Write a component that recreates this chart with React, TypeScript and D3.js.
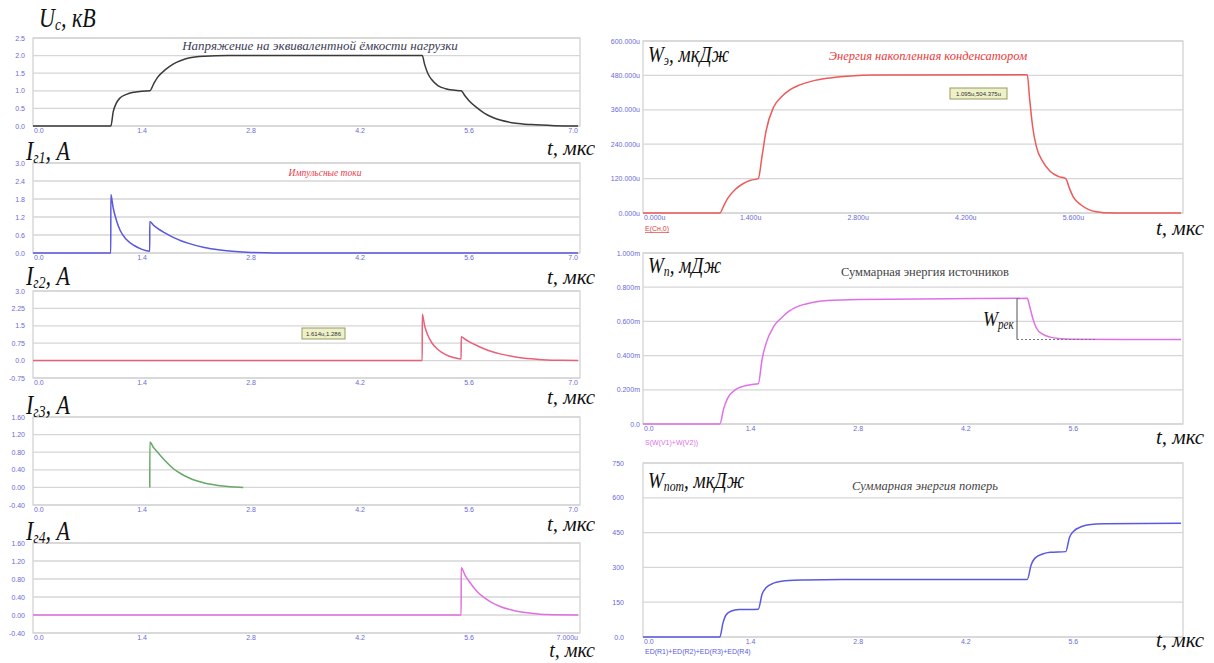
import React from "react";
import * as d3 from "d3";

type Pt = [number, number];

// ---- data (t in мкс) ----
const ucKV: Pt[] = [
  [0, 0], [1.0, 0], [1.03, 0.4], [1.07, 0.65], [1.12, 0.8], [1.2, 0.9], [1.3, 0.96], [1.4, 0.99], [1.5, 1.0],
  [1.55, 1.2], [1.6, 1.38], [1.7, 1.6], [1.8, 1.76], [1.9, 1.86], [2.0, 1.93], [2.2, 1.98], [2.5, 2.0], [5.0, 2.0],
  [5.03, 1.75], [5.07, 1.5], [5.12, 1.32], [5.2, 1.15], [5.3, 1.06], [5.4, 1.02], [5.5, 1.0],
  [5.55, 0.85], [5.6, 0.72], [5.7, 0.52], [5.8, 0.36], [5.9, 0.25], [6.0, 0.17], [6.2, 0.08], [6.4, 0.04], [6.7, 0.01], [7.0, 0],
];
const i1: Pt[] = [
  [0, 0], [0.999, 0], [1.0, 1.95], [1.03, 1.5], [1.07, 1.1], [1.12, 0.75], [1.2, 0.45], [1.3, 0.25], [1.4, 0.12], [1.499, 0.06],
  [1.5, 1.05], [1.55, 0.92], [1.6, 0.82], [1.7, 0.66], [1.8, 0.52], [1.9, 0.41], [2.0, 0.32], [2.2, 0.18], [2.4, 0.1],
  [2.6, 0.05], [2.8, 0.02], [3.1, 0], [7.0, 0],
];
const i2: Pt[] = [
  [0, 0], [4.999, 0], [5.0, 2.0], [5.03, 1.5], [5.07, 1.1], [5.12, 0.78], [5.2, 0.48], [5.3, 0.26], [5.4, 0.13], [5.499, 0.07],
  [5.5, 1.03], [5.55, 0.92], [5.6, 0.82], [5.7, 0.65], [5.8, 0.5], [5.9, 0.38], [6.0, 0.29], [6.2, 0.16], [6.4, 0.08],
  [6.6, 0.03], [6.8, 0.01], [7.0, 0],
];
const i3: Pt[] = [
  [1.5, 0], [1.501, 1.03], [1.55, 0.9], [1.6, 0.8], [1.7, 0.6], [1.8, 0.43], [1.9, 0.31], [2.0, 0.22], [2.1, 0.15],
  [2.2, 0.1], [2.4, 0.04], [2.6, 0.01], [2.7, 0],
];
const i4: Pt[] = [
  [0, 0], [5.499, 0], [5.5, 1.05], [5.55, 0.88], [5.6, 0.75], [5.7, 0.53], [5.8, 0.38], [5.9, 0.27], [6.0, 0.19],
  [6.2, 0.09], [6.4, 0.04], [6.6, 0.01], [7.0, 0],
];
const wCap: Pt[] = [
  [0, 0], [1.0, 0], [1.05, 25], [1.1, 50], [1.2, 82], [1.3, 102], [1.4, 114], [1.5, 120], [1.55, 200], [1.6, 285],
  [1.7, 370], [1.8, 405], [1.9, 428], [2.0, 442], [2.2, 460], [2.4, 470], [2.7, 478], [3.0, 481], [5.0, 482],
  [5.03, 400], [5.07, 300], [5.12, 230], [5.2, 180], [5.3, 145], [5.4, 128], [5.5, 120], [5.55, 85], [5.6, 55],
  [5.7, 28], [5.8, 12], [5.9, 4], [6.0, 1], [6.3, 0], [7.0, 0],
];
const wSrc: Pt[] = [
  [0, 0], [1.0, 0], [1.05, 0.09], [1.1, 0.15], [1.2, 0.2], [1.3, 0.22], [1.4, 0.23], [1.5, 0.235], [1.55, 0.38],
  [1.6, 0.47], [1.7, 0.57], [1.8, 0.62], [1.9, 0.66], [2.0, 0.685], [2.2, 0.71], [2.4, 0.722], [2.8, 0.728],
  [4.0, 0.732], [5.0, 0.735], [5.03, 0.69], [5.07, 0.62], [5.12, 0.56], [5.2, 0.525], [5.3, 0.508], [5.4, 0.5],
  [5.6, 0.496], [6.2, 0.494], [7.0, 0.494],
];
const wLoss: Pt[] = [
  [0, 0], [1.0, 0], [1.04, 60], [1.08, 95], [1.15, 112], [1.25, 118], [1.5, 120], [1.55, 185], [1.6, 212],
  [1.7, 232], [1.8, 240], [1.9, 244], [2.1, 246], [2.6, 248], [5.0, 248], [5.05, 310], [5.1, 340], [5.2, 358],
  [5.3, 365], [5.5, 368], [5.55, 430], [5.6, 455], [5.7, 475], [5.8, 484], [6.0, 488], [7.0, 490],
];

const tTicks = [0, 1.4, 2.8, 4.2, 5.6, 7.0];
const tLabelsLeft = ["0.0", "1.4", "2.8", "4.2", "5.6", "7.0"];
const tLabelsLast = ["0.0", "1.4", "2.8", "4.2", "5.6", "7.000u"];
const tLabelsCap = ["0.000u", "1.400u", "2.800u", "4.200u", "5.600u", ""];
const tLabelsRight = ["0.0", "1.4", "2.8", "4.2", "5.6", ""];

const ucTicks = [0, 0.5, 1.0, 1.5, 2.0, 2.5];
const ucLabels = ["0.0", "0.5", "1.0", "1.5", "2.0", "2.5"];
const i1Ticks = [0, 0.6, 1.2, 1.8, 2.4, 3.0];
const i1Labels = ["0.0", "0.6", "1.2", "1.8", "2.4", "3.0"];
const i2Ticks = [-0.75, 0, 0.75, 1.5, 2.25, 3.0];
const i2Labels = ["-0.75", "0.0", "0.75", "1.5", "2.25", "3.0"];
const i34Ticks = [-0.4, 0, 0.4, 0.8, 1.2, 1.6];
const i34Labels = ["-0.40", "0.00", "0.40", "0.80", "1.20", "1.60"];
const wCapTicks = [0, 120, 240, 360, 480, 600];
const wCapLabels = ["0.000u", "120.000u", "240.000u", "360.000u", "480.000u", "600.000u"];
const wSrcTicks = [0, 0.2, 0.4, 0.6, 0.8, 1.0];
const wSrcLabels = ["0.0", "0.200m", "0.400m", "0.600m", "0.800m", "1.000m"];
const wLossTicks = [0, 150, 300, 450, 600, 750];
const wLossLabels = ["0.0", "150", "300", "450", "600", "750"];

const SERIF = "'Liberation Serif', 'DejaVu Serif', serif";
const SANS = "'Liberation Sans', Arial, sans-serif";
const TICK_COLOR = "#6a6ad8";

type PanelProps = {
  left: number;
  right: number;
  top: number;
  bottom: number;
  yTicks: number[];
  yLabels: string[];
  yLabelX: number;
  xLabels: string[];
  data: Pt[];
  color: string;
  children?: React.ReactNode;
};

function Panel({ left, right, top, bottom, yTicks, yLabels, yLabelX, xLabels, data, color, children }: PanelProps) {
  const x = d3.scaleLinear().domain([0, 7]).range([left, right - 2]);
  const y = d3.scaleLinear().domain([yTicks[0], yTicks[yTicks.length - 1]]).range([bottom, top]);
  const line = d3
    .line<Pt>()
    .x((d) => x(d[0]))
    .y((d) => y(d[1]))
    .curve(d3.curveMonotoneX);
  return (
    <g>
      <rect x={left} y={top} width={right - left} height={bottom - top} fill="#fff" stroke="#cfcfcf" strokeWidth={1.2} />
      {yTicks.map((t, i) => (
        <g key={i}>
          <line x1={left} x2={right} y1={y(t)} y2={y(t)} stroke="#d6d6d6" strokeWidth={1.3} />
          <text x={yLabelX} y={y(t) + 2.5} fontSize={7} fill={TICK_COLOR} textAnchor="end" fontFamily={SANS}>
            {yLabels[i]}
          </text>
        </g>
      ))}
      {tTicks.map((t, i) => (
        <text
          key={i}
          x={i === 0 ? x(t) + 1 : x(t)}
          y={bottom + 6.5}
          fontSize={7}
          fill={TICK_COLOR}
          textAnchor={i === 0 ? "start" : i === tTicks.length - 1 ? "end" : "middle"}
          fontFamily={SANS}
        >
          {xLabels[i]}
        </text>
      ))}
      <path d={line(data) ?? ""} fill="none" stroke={color} strokeWidth={1.5} />
      {children}
    </g>
  );
}

function Label({ x, y, main, sub, rest, size = 21 }: { x: number; y: number; main: string; sub: string; rest: string; size?: number }) {
  return (
    <text transform={`translate(${x},${y}) scale(1,1.22)`} fontFamily={SERIF} fontStyle="italic" fontSize={size} fill="#111">
      {main}
      <tspan fontSize={size * 0.62} dy={2.5}>{sub}</tspan>
      <tspan dy={-2.5}>{rest}</tspan>
    </text>
  );
}

function TLabel({ x, y, size = 21 }: { x: number; y: number; size?: number }) {
  return (
    <text x={x} y={y} fontFamily={SERIF} fontStyle="italic" fontSize={size} fill="#111" textAnchor="end">
      t, мкс
    </text>
  );
}

function Title({ x, y, size, color, italic = true, children }: { x: number; y: number; size: number; color: string; italic?: boolean; children: React.ReactNode }) {
  return (
    <text x={x} y={y} fontSize={size} fontStyle={italic ? "italic" : "normal"} fontFamily={SERIF} fill={color} textAnchor="middle">
      {children}
    </text>
  );
}

function Note({ x, y, w, text }: { x: number; y: number; w: number; text: string }) {
  return (
    <g>
      <rect x={x} y={y} width={w} height={11} fill="#eef0c8" stroke="#9a9a60" strokeWidth={1} />
      <text x={x + w / 2} y={y + 8} fontSize={6} textAnchor="middle" fill="#333" fontFamily={SANS}>
        {text}
      </text>
    </g>
  );
}

export default function App() {
  const L = { left: 33, right: 580, yLabelX: 25 };
  const R = { left: 643, right: 1183 };
  const xR = d3.scaleLinear().domain([0, 7]).range([R.left, R.right - 2]);
  const ySrc = d3.scaleLinear().domain([0, 1.0]).range([424, 253]);
  return (
    <svg width={1214} height={663} style={{ position: "absolute", left: 0, top: 0, background: "#fff" }}>
      {/* left column */}
      <Panel {...L} top={38} bottom={126} yTicks={ucTicks} yLabels={ucLabels} xLabels={tLabelsLeft} data={ucKV} color="#3a3a3a">
        <Title x={320} y={50} size={13} color="#3c3c55">Напряжение на эквивалентной ёмкости нагрузки</Title>
      </Panel>
      <Label x={39} y={27} main="U" sub="c" rest=", кВ" size={22} />
      <TLabel x={595} y={155} />

      <Panel {...L} top={163} bottom={253} yTicks={i1Ticks} yLabels={i1Labels} xLabels={tLabelsLeft} data={i1} color="#5858e0">
        <Title x={325} y={176} size={9.5} color="#e83a4a">Импульсные токи</Title>
      </Panel>
      <Label x={26} y={160} main="I" sub="г1" rest=", A" size={22} />
      <TLabel x={595} y={284} />

      <Panel {...L} top={291} bottom={378} yTicks={i2Ticks} yLabels={i2Labels} xLabels={tLabelsLeft} data={i2} color="#e8607a">
        <Note x={302} y={328} w={43} text="1.614u,1.286" />
      </Panel>
      <Label x={26} y={285} main="I" sub="г2" rest=", A" size={22} />
      <TLabel x={595} y={404} />

      <Panel {...L} top={417} bottom={505} yTicks={i34Ticks} yLabels={i34Labels} xLabels={tLabelsLeft} data={i3} color="#66a866" />
      <Label x={26} y={414} main="I" sub="г3" rest=", A" size={22} />
      <TLabel x={595} y={531} />

      <Panel {...L} top={543} bottom={633} yTicks={i34Ticks} yLabels={i34Labels} xLabels={tLabelsLast} data={i4} color="#e070e0" />
      <Label x={26} y={540} main="I" sub="г4" rest=", A" size={22} />
      <TLabel x={595} y={657} size={20} />

      {/* right column */}
      <Panel {...R} top={41} bottom={213} yTicks={wCapTicks} yLabels={wCapLabels} yLabelX={640} xLabels={tLabelsCap} data={wCap} color="#ec5a5a">
        <Title x={928} y={60} size={12.5} color="#ec3a3a">Энергия накопленная конденсатором</Title>
        <Note x={950} y={88} w={57} text="1.095u,504.375u" />
        <text x={645} y={231} fontSize={7} fill="#e04040" fontFamily={SANS} textDecoration="underline">
          E(Cн,0)
        </text>
      </Panel>
      <Label x={648} y={62} main="W" sub="э" rest=", мкДж" size={19} />
      <TLabel x={1204} y={235} />

      <Panel {...R} top={253} bottom={424} yTicks={wSrcTicks} yLabels={wSrcLabels} yLabelX={640} xLabels={tLabelsRight} data={wSrc} color="#e070e8">
        <Title x={925} y={276} size={12.5} color="#444" italic={false}>Суммарная энергия источников</Title>
        <line x1={1017} x2={1017} y1={ySrc(0.735)} y2={ySrc(0.494)} stroke="#555" strokeWidth={1} />
        <line x1={1017} x2={1095} y1={ySrc(0.494)} y2={ySrc(0.494)} stroke="#777" strokeWidth={1} strokeDasharray="2,2" />
        <line x1={xR(4.9)} x2={1017} y1={ySrc(0.735)} y2={ySrc(0.735)} stroke="#777" strokeWidth={1} strokeDasharray="2,2" />
        <text x={645} y={445} fontSize={7} fill="#e070e8" fontFamily={SANS}>
          S(W(V1)+W(V2))
        </text>
      </Panel>
      <Label x={983} y={326} main="W" sub="рек" rest="" size={18} />
      <Label x={648} y={273} main="W" sub="п" rest=", мДж" size={19} />
      <TLabel x={1204} y={444} />

      <Panel {...R} top={463} bottom={637} yTicks={wLossTicks} yLabels={wLossLabels} yLabelX={624} xLabels={tLabelsRight} data={wLoss} color="#5a5ae0">
        <Title x={925} y={490} size={12.5} color="#444">Суммарная энергия потерь</Title>
        <text x={645} y={654} fontSize={7} fill="#5a5ae0" fontFamily={SANS}>
          ED(R1)+ED(R2)+ED(R3)+ED(R4)
        </text>
      </Panel>
      <Label x={648} y={488} main="W" sub="пот" rest=", мкДж" size={19} />
      <TLabel x={1204} y={647} />
    </svg>
  );
}
